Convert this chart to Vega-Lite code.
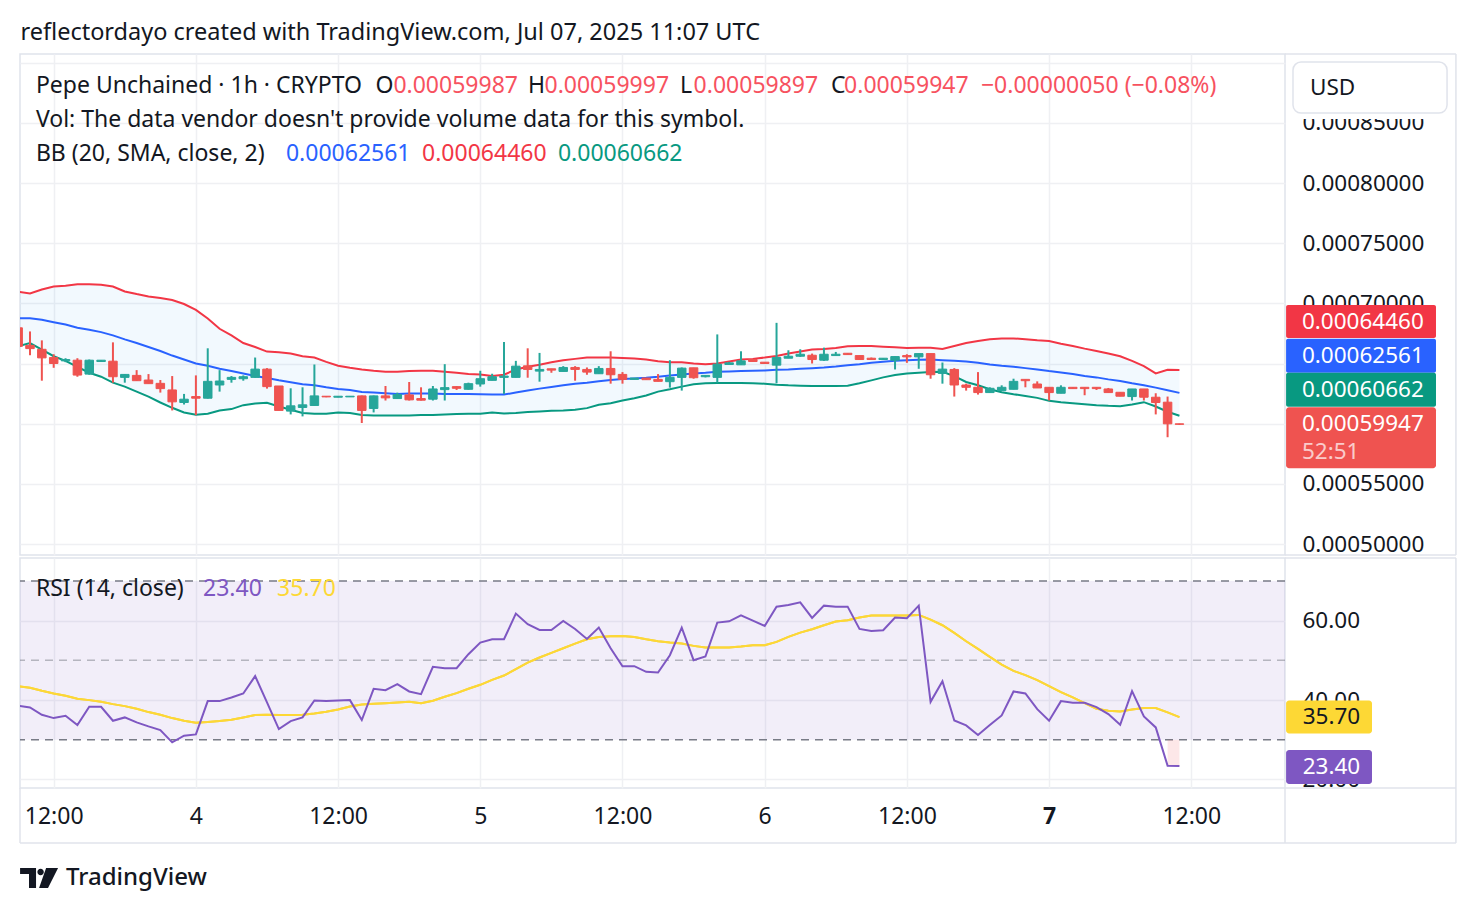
{
  "$schema": "https://vega.github.io/schema/vega-lite/v6.json",
  "background": "#ffffff",
  "padding": {"left": 18, "top": 21, "right": 0, "bottom": 0},
  "title": {
    "text": "reflectordayo created with TradingView.com, Jul 07, 2025 11:07 UTC",
    "anchor": "start",
    "font": "Noto Sans",
    "fontSize": 23.5,
    "fontWeight": "normal",
    "color": "#131722",
    "offset": 8,
    "dx": 2
  },
  "spacing": 3,
  "bounds": "flush",
  "datasets": {
    "bars": [
      {"t":"2025-07-03T09:00Z","o":0.00067967,"h":0.00067967,"l":0.00066429,"c":0.00066429,"u":0.00070961,"m":0.00068764,"lo":0.00066429,"r":38.55,"a":43.50},
      {"t":"2025-07-03T10:00Z","o":0.00066511,"h":0.00067665,"l":0.00065687,"c":0.00066237,"u":0.00070824,"m":0.00068764,"lo":0.00066704,"r":38.13,"a":43.08},
      {"t":"2025-07-03T11:00Z","o":0.00066182,"h":0.00066923,"l":0.00063572,"c":0.00065467,"u":0.00071154,"m":0.00068627,"lo":0.00066154,"r":36.29,"a":42.33},
      {"t":"2025-07-03T12:00Z","o":0.00065495,"h":0.00065770,"l":0.00064643,"c":0.00065000,"u":0.00071401,"m":0.00068434,"lo":0.00065605,"r":35.45,"a":41.66},
      {"t":"2025-07-03T13:00Z","o":0.00065220,"h":0.00065440,"l":0.00065110,"c":0.00065330,"u":0.00071456,"m":0.00068242,"lo":0.00065220,"r":36.04,"a":41.07},
      {"t":"2025-07-03T14:00Z","o":0.00065275,"h":0.00065440,"l":0.00063900,"c":0.00064039,"u":0.00071593,"m":0.00067967,"lo":0.00064726,"r":33.69,"a":40.31},
      {"t":"2025-07-03T15:00Z","o":0.00064121,"h":0.00065330,"l":0.00064066,"c":0.00065275,"u":0.00071593,"m":0.00067802,"lo":0.00064231,"r":38.30,"a":39.98},
      {"t":"2025-07-03T16:00Z","o":0.00065165,"h":0.00065275,"l":0.00065165,"c":0.00065275,"u":0.00071538,"m":0.00067610,"lo":0.00063902,"r":38.30,"a":39.56},
      {"t":"2025-07-03T17:00Z","o":0.00065193,"h":0.00066758,"l":0.00063407,"c":0.00063902,"u":0.00071401,"m":0.00067335,"lo":0.00063407,"r":34.78,"a":38.97},
      {"t":"2025-07-03T18:00Z","o":0.00063847,"h":0.00064121,"l":0.00063407,"c":0.00064094,"u":0.00070989,"m":0.00067006,"lo":0.00063078,"r":35.62,"a":38.47},
      {"t":"2025-07-03T19:00Z","o":0.00064012,"h":0.00064451,"l":0.00063545,"c":0.00063572,"u":0.00070769,"m":0.00066704,"lo":0.00062665,"r":34.36,"a":37.80},
      {"t":"2025-07-03T20:00Z","o":0.00063627,"h":0.00064121,"l":0.00063325,"c":0.00063325,"u":0.00070577,"m":0.00066374,"lo":0.00062253,"r":33.35,"a":36.96},
      {"t":"2025-07-03T21:00Z","o":0.00063352,"h":0.00063627,"l":0.00062583,"c":0.00062913,"u":0.00070440,"m":0.00066044,"lo":0.00061759,"r":32.43,"a":36.29},
      {"t":"2025-07-03T22:00Z","o":0.00062803,"h":0.00063957,"l":0.00061100,"c":0.00061814,"u":0.00070275,"m":0.00065660,"lo":0.00061319,"r":29.33,"a":35.45},
      {"t":"2025-07-03T23:00Z","o":0.00061759,"h":0.00062473,"l":0.00061594,"c":0.00062034,"u":0.00069945,"m":0.00065330,"lo":0.00060935,"r":31.01,"a":34.78},
      {"t":"2025-07-04T00:00Z","o":0.00062253,"h":0.00064012,"l":0.00060714,"c":0.00062116,"u":0.00069451,"m":0.00065000,"lo":0.00060743,"r":31.34,"a":34.28},
      {"t":"2025-07-04T01:00Z","o":0.00062116,"h":0.00066264,"l":0.00062088,"c":0.00063517,"u":0.00068736,"m":0.00064808,"lo":0.00060825,"r":39.73,"a":34.44},
      {"t":"2025-07-04T02:00Z","o":0.00063215,"h":0.00064451,"l":0.00062665,"c":0.00063545,"u":0.00067885,"m":0.00064561,"lo":0.00061100,"r":39.73,"a":34.70},
      {"t":"2025-07-04T03:00Z","o":0.00063682,"h":0.00063957,"l":0.00063407,"c":0.00063847,"u":0.00067335,"m":0.00064369,"lo":0.00061210,"r":40.65,"a":35.03},
      {"t":"2025-07-04T04:00Z","o":0.00063737,"h":0.00064012,"l":0.00063572,"c":0.00063902,"u":0.00066704,"m":0.00064176,"lo":0.00061539,"r":41.66,"a":35.62},
      {"t":"2025-07-04T05:00Z","o":0.00063847,"h":0.00065495,"l":0.00063820,"c":0.00064534,"u":0.00066374,"m":0.00063957,"lo":0.00061677,"r":46.02,"a":36.20},
      {"t":"2025-07-04T06:00Z","o":0.00064534,"h":0.00064616,"l":0.00062913,"c":0.00063078,"u":0.00065989,"m":0.00063792,"lo":0.00061732,"r":39.39,"a":36.29},
      {"t":"2025-07-04T07:00Z","o":0.00063133,"h":0.00063133,"l":0.00061100,"c":0.00061100,"u":0.00065934,"m":0.00063600,"lo":0.00061429,"r":32.68,"a":36.20},
      {"t":"2025-07-04T08:00Z","o":0.00061045,"h":0.00062940,"l":0.00060770,"c":0.00061484,"u":0.00065825,"m":0.00063435,"lo":0.00061155,"r":34.70,"a":36.20},
      {"t":"2025-07-04T09:00Z","o":0.00061347,"h":0.00063023,"l":0.00060605,"c":0.00061567,"u":0.00065605,"m":0.00063270,"lo":0.00060880,"r":35.62,"a":36.29},
      {"t":"2025-07-04T10:00Z","o":0.00061512,"h":0.00064918,"l":0.00061484,"c":0.00062308,"u":0.00065495,"m":0.00063188,"lo":0.00060825,"r":39.89,"a":36.62},
      {"t":"2025-07-04T11:00Z","o":0.00062281,"h":0.00062281,"l":0.00062198,"c":0.00062226,"u":0.00065138,"m":0.00063023,"lo":0.00060825,"r":39.73,"a":37.04},
      {"t":"2025-07-04T12:00Z","o":0.00062198,"h":0.00062281,"l":0.00062198,"c":0.00062281,"u":0.00064808,"m":0.00062885,"lo":0.00060935,"r":39.89,"a":37.63},
      {"t":"2025-07-04T13:00Z","o":0.00062226,"h":0.00062281,"l":0.00062226,"c":0.00062281,"u":0.00064643,"m":0.00062803,"lo":0.00060880,"r":39.98,"a":38.38},
      {"t":"2025-07-04T14:00Z","o":0.00062308,"h":0.00062336,"l":0.00060055,"c":0.00061100,"u":0.00064506,"m":0.00062638,"lo":0.00060715,"r":34.95,"a":38.89},
      {"t":"2025-07-04T15:00Z","o":0.00061265,"h":0.00062336,"l":0.00060935,"c":0.00062308,"u":0.00064396,"m":0.00062583,"lo":0.00060687,"r":42.83,"a":39.06},
      {"t":"2025-07-04T16:00Z","o":0.00062308,"h":0.00063133,"l":0.00061924,"c":0.00062143,"u":0.00064314,"m":0.00062528,"lo":0.00060687,"r":42.49,"a":39.22},
      {"t":"2025-07-04T17:00Z","o":0.00062088,"h":0.00062583,"l":0.00062060,"c":0.00062418,"u":0.00064314,"m":0.00062473,"lo":0.00060687,"r":44.00,"a":39.39},
      {"t":"2025-07-04T18:00Z","o":0.00062390,"h":0.00063462,"l":0.00061924,"c":0.00061979,"u":0.00064369,"m":0.00062501,"lo":0.00060687,"r":42.16,"a":39.56},
      {"t":"2025-07-04T19:00Z","o":0.00062088,"h":0.00063023,"l":0.00061924,"c":0.00061951,"u":0.00064396,"m":0.00062501,"lo":0.00060715,"r":41.49,"a":39.22},
      {"t":"2025-07-04T20:00Z","o":0.00062034,"h":0.00063133,"l":0.00061924,"c":0.00062885,"u":0.00064396,"m":0.00062501,"lo":0.00060715,"r":48.36,"a":39.81},
      {"t":"2025-07-04T21:00Z","o":0.00062830,"h":0.00064945,"l":0.00061924,"c":0.00062995,"u":0.00064314,"m":0.00062473,"lo":0.00060770,"r":48.03,"a":40.82},
      {"t":"2025-07-04T22:00Z","o":0.00063078,"h":0.00063105,"l":0.00062803,"c":0.00062940,"u":0.00064231,"m":0.00062473,"lo":0.00060797,"r":48.03,"a":41.74},
      {"t":"2025-07-04T23:00Z","o":0.00062858,"h":0.00063407,"l":0.00062830,"c":0.00063325,"u":0.00064121,"m":0.00062473,"lo":0.00060825,"r":51.55,"a":42.83},
      {"t":"2025-07-05T00:00Z","o":0.00063298,"h":0.00064396,"l":0.00063078,"c":0.00063737,"u":0.00064094,"m":0.00062446,"lo":0.00060825,"r":54.49,"a":43.84},
      {"t":"2025-07-05T01:00Z","o":0.00063600,"h":0.00064149,"l":0.00063600,"c":0.00063902,"u":0.00063957,"m":0.00062418,"lo":0.00060935,"r":55.32,"a":45.09},
      {"t":"2025-07-05T02:00Z","o":0.00063847,"h":0.00066786,"l":0.00062473,"c":0.00063957,"u":0.00064066,"m":0.00062418,"lo":0.00060852,"r":55.32,"a":46.18},
      {"t":"2025-07-05T03:00Z","o":0.00063847,"h":0.00065220,"l":0.00063847,"c":0.00064781,"u":0.00064506,"m":0.00062583,"lo":0.00060880,"r":61.78,"a":47.78},
      {"t":"2025-07-05T04:00Z","o":0.00064808,"h":0.00066264,"l":0.00063820,"c":0.00064506,"u":0.00064726,"m":0.00062748,"lo":0.00060962,"r":59.10,"a":49.45},
      {"t":"2025-07-05T05:00Z","o":0.00064369,"h":0.00065880,"l":0.00063490,"c":0.00064506,"u":0.00064891,"m":0.00062913,"lo":0.00061017,"r":57.67,"a":50.71},
      {"t":"2025-07-05T06:00Z","o":0.00064561,"h":0.00064561,"l":0.00064231,"c":0.00064451,"u":0.00065110,"m":0.00063050,"lo":0.00061072,"r":57.67,"a":51.89},
      {"t":"2025-07-05T07:00Z","o":0.00064341,"h":0.00064781,"l":0.00064341,"c":0.00064671,"u":0.00065275,"m":0.00063188,"lo":0.00061100,"r":59.94,"a":53.06},
      {"t":"2025-07-05T08:00Z","o":0.00064671,"h":0.00064781,"l":0.00063572,"c":0.00064506,"u":0.00065385,"m":0.00063325,"lo":0.00061155,"r":57.92,"a":54.23},
      {"t":"2025-07-05T09:00Z","o":0.00064506,"h":0.00064671,"l":0.00064066,"c":0.00064286,"u":0.00065495,"m":0.00063407,"lo":0.00061292,"r":55.41,"a":55.32},
      {"t":"2025-07-05T10:00Z","o":0.00064149,"h":0.00064781,"l":0.00064149,"c":0.00064588,"u":0.00065495,"m":0.00063517,"lo":0.00061567,"r":58.26,"a":55.91},
      {"t":"2025-07-05T11:00Z","o":0.00064588,"h":0.00066017,"l":0.00063325,"c":0.00064066,"u":0.00065495,"m":0.00063627,"lo":0.00061704,"r":53.06,"a":56.08},
      {"t":"2025-07-05T12:00Z","o":0.00064094,"h":0.00064286,"l":0.00063325,"c":0.00063682,"u":0.00065467,"m":0.00063709,"lo":0.00061924,"r":48.53,"a":56.16},
      {"t":"2025-07-05T13:00Z","o":0.00063682,"h":0.00063792,"l":0.00063682,"c":0.00063792,"u":0.00065412,"m":0.00063764,"lo":0.00062116,"r":48.53,"a":55.91},
      {"t":"2025-07-05T14:00Z","o":0.00063792,"h":0.00063792,"l":0.00063655,"c":0.00063655,"u":0.00065330,"m":0.00063819,"lo":0.00062336,"r":47.11,"a":55.32},
      {"t":"2025-07-05T15:00Z","o":0.00063682,"h":0.00064121,"l":0.00063517,"c":0.00063517,"u":0.00065193,"m":0.00063902,"lo":0.00062665,"r":46.94,"a":54.82},
      {"t":"2025-07-05T16:00Z","o":0.00063490,"h":0.00065275,"l":0.00062995,"c":0.00063847,"u":0.00065110,"m":0.00064012,"lo":0.00062858,"r":51.30,"a":54.49},
      {"t":"2025-07-05T17:00Z","o":0.00063847,"h":0.00064671,"l":0.00062748,"c":0.00064616,"u":0.00065110,"m":0.00064094,"lo":0.00063078,"r":58.26,"a":54.23},
      {"t":"2025-07-05T18:00Z","o":0.00064643,"h":0.00064643,"l":0.00063737,"c":0.00063820,"u":0.00065000,"m":0.00064176,"lo":0.00063270,"r":50.04,"a":53.65},
      {"t":"2025-07-05T19:00Z","o":0.00063902,"h":0.00064012,"l":0.00063847,"c":0.00064012,"u":0.00064946,"m":0.00064231,"lo":0.00063352,"r":50.96,"a":53.23},
      {"t":"2025-07-05T20:00Z","o":0.00063847,"h":0.00067418,"l":0.00063407,"c":0.00064945,"u":0.00065000,"m":0.00064314,"lo":0.00063380,"r":59.52,"a":53.23},
      {"t":"2025-07-05T21:00Z","o":0.00064918,"h":0.00065138,"l":0.00064918,"c":0.00065055,"u":0.00065165,"m":0.00064341,"lo":0.00063380,"r":59.85,"a":53.23},
      {"t":"2025-07-05T22:00Z","o":0.00064890,"h":0.00066017,"l":0.00064890,"c":0.00065220,"u":0.00065330,"m":0.00064369,"lo":0.00063380,"r":61.36,"a":53.48},
      {"t":"2025-07-05T23:00Z","o":0.00065330,"h":0.00065330,"l":0.00065165,"c":0.00065165,"u":0.00065385,"m":0.00064396,"lo":0.00063352,"r":60.02,"a":53.82},
      {"t":"2025-07-06T00:00Z","o":0.00065110,"h":0.00065110,"l":0.00065000,"c":0.00065000,"u":0.00065495,"m":0.00064424,"lo":0.00063325,"r":58.68,"a":53.82},
      {"t":"2025-07-06T01:00Z","o":0.00064863,"h":0.00068379,"l":0.00063352,"c":0.00065495,"u":0.00065632,"m":0.00064479,"lo":0.00063242,"r":63.54,"a":54.65},
      {"t":"2025-07-06T02:00Z","o":0.00065440,"h":0.00066099,"l":0.00065440,"c":0.00065605,"u":0.00065825,"m":0.00064506,"lo":0.00063188,"r":63.96,"a":55.91},
      {"t":"2025-07-06T03:00Z","o":0.00065605,"h":0.00066182,"l":0.00065550,"c":0.00065770,"u":0.00065989,"m":0.00064561,"lo":0.00063160,"r":64.63,"a":57.00},
      {"t":"2025-07-06T04:00Z","o":0.00065687,"h":0.00065825,"l":0.00065000,"c":0.00065330,"u":0.00066154,"m":0.00064616,"lo":0.00063133,"r":60.69,"a":57.84},
      {"t":"2025-07-06T05:00Z","o":0.00065275,"h":0.00066319,"l":0.00065220,"c":0.00065770,"u":0.00066209,"m":0.00064671,"lo":0.00063133,"r":63.79,"a":58.85},
      {"t":"2025-07-06T06:00Z","o":0.00065660,"h":0.00065962,"l":0.00065660,"c":0.00065770,"u":0.00066291,"m":0.00064753,"lo":0.00063133,"r":63.54,"a":59.77},
      {"t":"2025-07-06T07:00Z","o":0.00065852,"h":0.00065852,"l":0.00065742,"c":0.00065742,"u":0.00066429,"m":0.00064863,"lo":0.00063160,"r":63.54,"a":60.10},
      {"t":"2025-07-06T08:00Z","o":0.00065660,"h":0.00065660,"l":0.00065330,"c":0.00065330,"u":0.00066456,"m":0.00064946,"lo":0.00063352,"r":57.92,"a":60.78},
      {"t":"2025-07-06T09:00Z","o":0.00065440,"h":0.00065495,"l":0.00065330,"c":0.00065330,"u":0.00066456,"m":0.00065055,"lo":0.00063600,"r":57.42,"a":61.28},
      {"t":"2025-07-06T10:00Z","o":0.00065330,"h":0.00065440,"l":0.00065330,"c":0.00065440,"u":0.00066401,"m":0.00065138,"lo":0.00063847,"r":57.59,"a":61.28},
      {"t":"2025-07-06T11:00Z","o":0.00065275,"h":0.00065577,"l":0.00064506,"c":0.00065577,"u":0.00066346,"m":0.00065220,"lo":0.00064039,"r":60.78,"a":61.28},
      {"t":"2025-07-06T12:00Z","o":0.00065660,"h":0.00065770,"l":0.00065055,"c":0.00065550,"u":0.00066291,"m":0.00065275,"lo":0.00064176,"r":60.61,"a":61.28},
      {"t":"2025-07-06T13:00Z","o":0.00065550,"h":0.00065825,"l":0.00064561,"c":0.00065825,"u":0.00066319,"m":0.00065303,"lo":0.00064231,"r":63.79,"a":61.45},
      {"t":"2025-07-06T14:00Z","o":0.00065825,"h":0.00065825,"l":0.00063737,"c":0.00064066,"u":0.00066319,"m":0.00065330,"lo":0.00064286,"r":39.56,"a":60.27},
      {"t":"2025-07-06T15:00Z","o":0.00064176,"h":0.00065082,"l":0.00063325,"c":0.00064534,"u":0.00066209,"m":0.00065275,"lo":0.00064314,"r":44.76,"a":58.85},
      {"t":"2025-07-06T16:00Z","o":0.00064506,"h":0.00064616,"l":0.00062253,"c":0.00063215,"u":0.00066456,"m":0.00065220,"lo":0.00063957,"r":34.86,"a":56.92},
      {"t":"2025-07-06T17:00Z","o":0.00063215,"h":0.00063325,"l":0.00062748,"c":0.00063023,"u":0.00066704,"m":0.00065165,"lo":0.00063462,"r":33.60,"a":54.82},
      {"t":"2025-07-06T18:00Z","o":0.00063023,"h":0.00064286,"l":0.00062418,"c":0.00062583,"u":0.00066868,"m":0.00065055,"lo":0.00063188,"r":31.17,"a":52.89},
      {"t":"2025-07-06T19:00Z","o":0.00062583,"h":0.00063023,"l":0.00062583,"c":0.00062940,"u":0.00067006,"m":0.00064918,"lo":0.00062858,"r":33.69,"a":50.88},
      {"t":"2025-07-06T20:00Z","o":0.00062748,"h":0.00063188,"l":0.00062748,"c":0.00063023,"u":0.00067088,"m":0.00064808,"lo":0.00062610,"r":36.12,"a":48.95},
      {"t":"2025-07-06T21:00Z","o":0.00062858,"h":0.00063737,"l":0.00062858,"c":0.00063517,"u":0.00067088,"m":0.00064726,"lo":0.00062446,"r":42.16,"a":47.36},
      {"t":"2025-07-06T22:00Z","o":0.00063682,"h":0.00063682,"l":0.00063023,"c":0.00063572,"u":0.00067006,"m":0.00064616,"lo":0.00062308,"r":41.66,"a":46.27},
      {"t":"2025-07-06T23:00Z","o":0.00063297,"h":0.00063517,"l":0.00062968,"c":0.00062968,"u":0.00066923,"m":0.00064506,"lo":0.00062143,"r":37.71,"a":45.01},
      {"t":"2025-07-07T00:00Z","o":0.00063023,"h":0.00063023,"l":0.00061924,"c":0.00062583,"u":0.00066868,"m":0.00064369,"lo":0.00061896,"r":34.78,"a":43.50},
      {"t":"2025-07-07T01:00Z","o":0.00062528,"h":0.00063188,"l":0.00062528,"c":0.00063023,"u":0.00066649,"m":0.00064259,"lo":0.00061786,"r":39.73,"a":41.99},
      {"t":"2025-07-07T02:00Z","o":0.00063023,"h":0.00063023,"l":0.00062913,"c":0.00062913,"u":0.00066456,"m":0.00064121,"lo":0.00061704,"r":39.31,"a":40.65},
      {"t":"2025-07-07T03:00Z","o":0.00063023,"h":0.00063023,"l":0.00062363,"c":0.00062913,"u":0.00066237,"m":0.00063957,"lo":0.00061622,"r":39.31,"a":39.22},
      {"t":"2025-07-07T04:00Z","o":0.00063023,"h":0.00063023,"l":0.00062803,"c":0.00062913,"u":0.00066044,"m":0.00063847,"lo":0.00061539,"r":38.22,"a":37.80},
      {"t":"2025-07-07T05:00Z","o":0.00062885,"h":0.00062968,"l":0.00062583,"c":0.00062583,"u":0.00065825,"m":0.00063682,"lo":0.00061484,"r":36.46,"a":37.29},
      {"t":"2025-07-07T06:00Z","o":0.00062610,"h":0.00062610,"l":0.00062281,"c":0.00062281,"u":0.00065605,"m":0.00063545,"lo":0.00061457,"r":33.77,"a":37.13},
      {"t":"2025-07-07T07:00Z","o":0.00062253,"h":0.00062885,"l":0.00061924,"c":0.00062885,"u":0.00065220,"m":0.00063352,"lo":0.00061594,"r":42.24,"a":37.63},
      {"t":"2025-07-07T08:00Z","o":0.00062885,"h":0.00062885,"l":0.00061924,"c":0.00062198,"u":0.00064781,"m":0.00063188,"lo":0.00061786,"r":35.87,"a":37.97},
      {"t":"2025-07-07T09:00Z","o":0.00062198,"h":0.00062528,"l":0.00060770,"c":0.00061759,"u":0.00064176,"m":0.00062995,"lo":0.00061429,"r":33.10,"a":37.97},
      {"t":"2025-07-07T10:00Z","o":0.00061786,"h":0.00062253,"l":0.00058874,"c":0.00059987,"u":0.00064480,"m":0.00062775,"lo":0.00060990,"r":23.46,"a":36.88},
      {"t":"2025-07-07T11:00Z","o":0.00059987,"h":0.00059997,"l":0.00059897,"c":0.00059947,"u":0.00064460,"m":0.00062561,"lo":0.00060662,"r":23.40,"a":35.70}
    ],
    "notes": [
      {"t":"2025-07-03T10:30Z","p":0.00088061,"text":"Pepe Unchained · 1h · CRYPTO","k":"ink"},
      {"t":"2025-07-04T15:10Z","p":0.00088061,"text":"O","k":"ink"},
      {"t":"2025-07-04T16:40Z","p":0.00088061,"text":"0.00059987","k":"down"},
      {"t":"2025-07-05T04:02Z","p":0.00088061,"text":"H","k":"ink"},
      {"t":"2025-07-05T05:25Z","p":0.00088061,"text":"0.00059997","k":"down"},
      {"t":"2025-07-05T16:51Z","p":0.00088061,"text":"L","k":"ink"},
      {"t":"2025-07-05T18:00Z","p":0.00088061,"text":"0.00059897","k":"down"},
      {"t":"2025-07-06T05:36Z","p":0.00088061,"text":"C","k":"ink"},
      {"t":"2025-07-06T06:42Z","p":0.00088061,"text":"0.00059947","k":"down"},
      {"t":"2025-07-06T18:15Z","p":0.00088061,"text":"−0.00000050 (−0.08%)","k":"down"},
      {"t":"2025-07-03T10:30Z","p":0.00085235,"text":"Vol: The data vendor doesn't provide volume data for this symbol.","k":"ink"},
      {"t":"2025-07-03T10:30Z","p":0.0008241,"text":"BB (20, SMA, close, 2)","k":"ink"},
      {"t":"2025-07-04T07:36Z","p":0.0008241,"text":"0.00062561","k":"basis"},
      {"t":"2025-07-04T19:05Z","p":0.0008241,"text":"0.00064460","k":"upper"},
      {"t":"2025-07-05T06:33Z","p":0.0008241,"text":"0.00060662","k":"lower"}
    ],
    "scaleBox": [
      {"m1":"2025-07-07T20:00Z","m2":"2025-07-08T10:15Z","mp1":0.0009072,"mp2":0.00085318,
       "t1":"2025-07-07T20:35Z","t2":"2025-07-08T09:35Z","p1":0.00090055,"p2":0.00085817,
       "tx":"2025-07-07T22:01Z","py":0.00087895,"text":"USD"}
    ],
    "priceTags": [
      {"t1":"2025-07-07T20:00Z","t2":"2025-07-08T08:39Z","tx":"2025-07-07T21:20Z","v":0.0006446,"text":"0.00064460","k":"upper"},
      {"t1":"2025-07-07T20:00Z","t2":"2025-07-08T08:39Z","tx":"2025-07-07T21:20Z","v":0.00062561,"text":"0.00062561","k":"basis"},
      {"t1":"2025-07-07T20:00Z","t2":"2025-07-08T08:39Z","tx":"2025-07-07T21:20Z","v":0.00060662,"text":"0.00060662","k":"lower"},
      {"t1":"2025-07-07T20:00Z","t2":"2025-07-08T08:39Z","tx":"2025-07-07T21:20Z","v":0.00059947,"text":"0.00059947","sub":"52:51","k":"last"}
    ],
    "frameMain": [
      {"t1":"2025-07-07T19:54:30Z","t2":"2025-07-08T10:20Z","v1":0.0009072,"v2":0.0009072},
      {"t1":"2025-07-08T10:20Z","t2":"2025-07-08T10:20Z","v1":0.0009072,"v2":0.00049087},
      {"t1":"2025-07-07T19:54:30Z","t2":"2025-07-08T10:20Z","v1":0.00049087,"v2":0.00049087}
    ],
    "levels": [
      {"lvl":70,"k":"bound"},
      {"lvl":50,"k":"mid"},
      {"lvl":30,"k":"bound"}
    ],
    "rsiNotes": [
      {"t":"2025-07-03T10:30Z","v":67.98,"text":"RSI (14, close)","k":"ink"},
      {"t":"2025-07-04T00:36Z","v":67.98,"text":"23.40","k":"rsi"},
      {"t":"2025-07-04T06:51Z","v":67.98,"text":"35.70","k":"ma"}
    ],
    "rsiTags": [
      {"t1":"2025-07-07T20:00Z","t2":"2025-07-08T03:15Z","tx":"2025-07-07T21:24Z","v":35.7,"text":"35.70","k":"ma"},
      {"t1":"2025-07-07T20:00Z","t2":"2025-07-08T03:15Z","tx":"2025-07-07T21:24Z","v":23.4,"text":"23.40","k":"rsi"}
    ],
    "frameRsi": [
      {"t1":"2025-07-08T10:20Z","t2":"2025-07-08T10:20Z","v1":75.8,"v2":3.96},
      {"t1":"2025-07-07T19:54:30Z","t2":"2025-07-08T10:20Z","v1":75.8,"v2":75.8},
      {"t1":"2025-07-07T19:54:30Z","t2":"2025-07-08T10:20Z","v1":17.83,"v2":17.83},
      {"t1":"2025-07-07T19:54:30Z","t2":"2025-07-07T19:54:30Z","v1":17.83,"v2":3.96},
      {"t1":"2025-07-03T09:09:24Z","t2":"2025-07-03T09:09:24Z","v1":17.83,"v2":3.96},
      {"t1":"2025-07-03T09:09:24Z","t2":"2025-07-08T10:20Z","v1":3.96,"v2":3.96}
    ],
    "brand": [
      {"t":"2025-07-03T13:02Z","lt":"2025-07-03T10:46Z","v":-4.86,"text":"TradingView"}
    ]
  },
  "vconcat": [
    {
      "width": 1265,
      "height": 501,
      "layer": [
        {
          "data": {"name": "bars"},
          "mark": {"type": "area", "color": "#2196f3", "opacity": 0.06, "clip": true},
          "encoding": {
            "x": {
              "field": "t", "type": "temporal", "title": null,
              "scale": {"type": "utc", "padding": 0, "domain": [
                {"year": 2025, "month": 7, "date": 3, "hours": 9, "minutes": 9, "seconds": 24, "utc": true},
                {"year": 2025, "month": 7, "date": 7, "hours": 19, "minutes": 54, "seconds": 30, "utc": true}
              ]},
              "axis": {
                "labels": false, "grid": true, "ticks": false, "domain": false,
                "values": [
                  {"year": 2025, "month": 7, "date": 3, "hours": 12, "utc": true},
                  {"year": 2025, "month": 7, "date": 4, "hours": 0, "utc": true},
                  {"year": 2025, "month": 7, "date": 4, "hours": 12, "utc": true},
                  {"year": 2025, "month": 7, "date": 5, "hours": 0, "utc": true},
                  {"year": 2025, "month": 7, "date": 5, "hours": 12, "utc": true},
                  {"year": 2025, "month": 7, "date": 6, "hours": 0, "utc": true},
                  {"year": 2025, "month": 7, "date": 6, "hours": 12, "utc": true},
                  {"year": 2025, "month": 7, "date": 7, "hours": 0, "utc": true},
                  {"year": 2025, "month": 7, "date": 7, "hours": 12, "utc": true}
                ]
              }
            },
            "y": {
              "field": "u", "type": "quantitative", "title": null,
              "scale": {"domain": [0.00049087, 0.0009072], "zero": false, "nice": false},
              "axis": {
                "orient": "right", "grid": true, "format": ".8f", "labelPadding": 17, "labelFontSize": 22.5,
                "values": [0.0005, 0.00055, 0.0006, 0.00065, 0.0007, 0.00075, 0.0008, 0.00085, 0.0009],
                "labelExpr": "datum.value > 0.00088 ? '' : datum.label"
              }
            },
            "y2": {"field": "lo"}
          }
        },
        {
          "data": {"name": "bars"},
          "mark": {"type": "line", "color": "#f23645", "strokeWidth": 2, "clip": true},
          "encoding": {
            "x": {"field": "t", "type": "temporal", "title": null},
            "y": {"field": "u", "type": "quantitative", "title": null}
          }
        },
        {
          "data": {"name": "bars"},
          "mark": {"type": "line", "color": "#2962ff", "strokeWidth": 2, "clip": true},
          "encoding": {
            "x": {"field": "t", "type": "temporal", "title": null},
            "y": {"field": "m", "type": "quantitative", "title": null}
          }
        },
        {
          "data": {"name": "bars"},
          "mark": {"type": "line", "color": "#089981", "strokeWidth": 2, "clip": true},
          "encoding": {
            "x": {"field": "t", "type": "temporal", "title": null},
            "y": {"field": "lo", "type": "quantitative", "title": null}
          }
        },
        {
          "data": {"name": "bars"},
          "mark": {"type": "rule", "strokeWidth": 2, "clip": true},
          "encoding": {
            "x": {"field": "t", "type": "temporal", "title": null},
            "y": {"field": "l", "type": "quantitative", "title": null},
            "y2": {"field": "h"},
            "color": {"condition": {"test": "datum.c >= datum.o", "value": "#26a69a"}, "value": "#ef5350"}
          }
        },
        {
          "data": {"name": "bars"},
          "mark": {"type": "bar", "width": 8.5, "strokeWidth": 1, "clip": true},
          "encoding": {
            "x": {"field": "t", "type": "temporal", "title": null},
            "y": {"field": "o", "type": "quantitative", "title": null},
            "y2": {"field": "c"},
            "color": {"condition": {"test": "datum.c >= datum.o", "value": "#26a69a"}, "value": "#ef5350"},
            "stroke": {"condition": {"test": "datum.c >= datum.o", "value": "#26a69a"}, "value": "#ef5350"}
          }
        },
        {
          "data": {"name": "notes"},
          "mark": {"type": "text", "align": "left", "baseline": "middle", "fontSize": 23},
          "encoding": {
            "x": {"field": "t", "type": "temporal", "title": null},
            "y": {"field": "p", "type": "quantitative", "title": null},
            "text": {"field": "text"},
            "color": {
              "field": "k", "type": "nominal", "legend": null,
              "scale": {"domain": ["ink", "down", "basis", "upper", "lower", "rsi", "ma"], "range": ["#131722", "#f7525f", "#2962ff", "#f23645", "#089981", "#7e57c2", "#fdd835"]}
            }
          }
        },
        {
          "data": {"name": "scaleBox"},
          "mark": {"type": "rect", "color": "#ffffff"},
          "encoding": {
            "x": {"field": "m1", "type": "temporal", "title": null},
            "x2": {"field": "m2"},
            "y": {"field": "mp1", "type": "quantitative", "title": null},
            "y2": {"field": "mp2"}
          }
        },
        {
          "data": {"name": "scaleBox"},
          "mark": {"type": "rect", "fill": "#ffffff", "stroke": "#e0e3eb", "strokeWidth": 1.5, "cornerRadius": 8},
          "encoding": {
            "x": {"field": "t1", "type": "temporal", "title": null},
            "x2": {"field": "t2"},
            "y": {"field": "p1", "type": "quantitative", "title": null},
            "y2": {"field": "p2"}
          }
        },
        {
          "data": {"name": "scaleBox"},
          "mark": {"type": "text", "align": "left", "baseline": "middle", "fontSize": 22.5, "color": "#131722"},
          "encoding": {
            "x": {"field": "tx", "type": "temporal", "title": null},
            "y": {"field": "py", "type": "quantitative", "title": null},
            "text": {"field": "text"}
          }
        },
        {
          "data": {"name": "priceTags"},
          "transform": [{"filter": "datum.k === 'upper'"}],
          "mark": {"type": "rect", "color": "#f23645", "cornerRadius": 2, "yOffset": -65, "y2Offset": -32},
          "encoding": {
            "x": {"field": "t1", "type": "temporal", "title": null},
            "x2": {"field": "t2"},
            "y": {"field": "v", "type": "quantitative", "title": null},
            "y2": {"field": "v"}
          }
        },
        {
          "data": {"name": "priceTags"},
          "transform": [{"filter": "datum.k === 'upper'"}],
          "mark": {"type": "text", "align": "left", "baseline": "middle", "fontSize": 22.5, "color": "#ffffff", "dy": -48.5},
          "encoding": {
            "x": {"field": "tx", "type": "temporal", "title": null},
            "y": {"field": "v", "type": "quantitative", "title": null},
            "text": {"field": "text"}
          }
        },
        {
          "data": {"name": "priceTags"},
          "transform": [{"filter": "datum.k === 'basis'"}],
          "mark": {"type": "rect", "color": "#2962ff", "cornerRadius": 2, "yOffset": -54, "y2Offset": -20},
          "encoding": {
            "x": {"field": "t1", "type": "temporal", "title": null},
            "x2": {"field": "t2"},
            "y": {"field": "v", "type": "quantitative", "title": null},
            "y2": {"field": "v"}
          }
        },
        {
          "data": {"name": "priceTags"},
          "transform": [{"filter": "datum.k === 'basis'"}],
          "mark": {"type": "text", "align": "left", "baseline": "middle", "fontSize": 22.5, "color": "#ffffff", "dy": -37},
          "encoding": {
            "x": {"field": "tx", "type": "temporal", "title": null},
            "y": {"field": "v", "type": "quantitative", "title": null},
            "text": {"field": "text"}
          }
        },
        {
          "data": {"name": "priceTags"},
          "transform": [{"filter": "datum.k === 'lower'"}],
          "mark": {"type": "rect", "color": "#089981", "cornerRadius": 2, "yOffset": -43, "y2Offset": -9},
          "encoding": {
            "x": {"field": "t1", "type": "temporal", "title": null},
            "x2": {"field": "t2"},
            "y": {"field": "v", "type": "quantitative", "title": null},
            "y2": {"field": "v"}
          }
        },
        {
          "data": {"name": "priceTags"},
          "transform": [{"filter": "datum.k === 'lower'"}],
          "mark": {"type": "text", "align": "left", "baseline": "middle", "fontSize": 22.5, "color": "#ffffff", "dy": -26},
          "encoding": {
            "x": {"field": "tx", "type": "temporal", "title": null},
            "y": {"field": "v", "type": "quantitative", "title": null},
            "text": {"field": "text"}
          }
        },
        {
          "data": {"name": "priceTags"},
          "transform": [{"filter": "datum.k === 'last'"}],
          "mark": {"type": "rect", "color": "#ef5350", "cornerRadius": 3, "yOffset": -17, "y2Offset": 44},
          "encoding": {
            "x": {"field": "t1", "type": "temporal", "title": null},
            "x2": {"field": "t2"},
            "y": {"field": "v", "type": "quantitative", "title": null},
            "y2": {"field": "v"}
          }
        },
        {
          "data": {"name": "priceTags"},
          "transform": [{"filter": "datum.k === 'last'"}],
          "mark": {"type": "text", "align": "left", "baseline": "middle", "fontSize": 22.5, "color": "#ffffff"},
          "encoding": {
            "x": {"field": "tx", "type": "temporal", "title": null},
            "y": {"field": "v", "type": "quantitative", "title": null},
            "text": {"field": "text"}
          }
        },
        {
          "data": {"name": "priceTags"},
          "transform": [{"filter": "datum.k === 'last'"}],
          "mark": {"type": "text", "align": "left", "baseline": "middle", "fontSize": 22.5, "color": "#ffffff", "opacity": 0.7, "dy": 28},
          "encoding": {
            "x": {"field": "tx", "type": "temporal", "title": null},
            "y": {"field": "v", "type": "quantitative", "title": null},
            "text": {"field": "sub"}
          }
        },
        {
          "data": {"name": "frameMain"},
          "mark": {"type": "rule", "color": "#e0e3eb", "strokeWidth": 1.5},
          "encoding": {
            "x": {"field": "t1", "type": "temporal", "title": null},
            "x2": {"field": "t2"},
            "y": {"field": "v1", "type": "quantitative", "title": null},
            "y2": {"field": "v2"}
          }
        }
      ]
    },
    {
      "width": 1265,
      "height": 230,
      "layer": [
        {
          "data": {"name": "bars"},
          "mark": {"type": "line", "color": "#fdd835", "strokeWidth": 2, "clip": true},
          "encoding": {
            "x": {
              "field": "t", "type": "temporal", "title": null,
              "scale": {"type": "utc", "padding": 0, "domain": [
                {"year": 2025, "month": 7, "date": 3, "hours": 9, "minutes": 9, "seconds": 24, "utc": true},
                {"year": 2025, "month": 7, "date": 7, "hours": 19, "minutes": 54, "seconds": 30, "utc": true}
              ]},
              "axis": {
                "orient": "bottom", "grid": true, "ticks": false, "domain": false,
                "labelPadding": 28, "labelBaseline": "middle", "labelFontSize": 23,
                "labelExpr": "utchours(datum.value) === 12 ? '12:00' : '' + utcdate(datum.value)",
                "labelFontWeight": {"condition": {"test": "utcday(datum.value) === 1 && utchours(datum.value) === 0", "value": "bold"}, "value": "normal"},
                "values": [
                  {"year": 2025, "month": 7, "date": 3, "hours": 12, "utc": true},
                  {"year": 2025, "month": 7, "date": 4, "hours": 0, "utc": true},
                  {"year": 2025, "month": 7, "date": 4, "hours": 12, "utc": true},
                  {"year": 2025, "month": 7, "date": 5, "hours": 0, "utc": true},
                  {"year": 2025, "month": 7, "date": 5, "hours": 12, "utc": true},
                  {"year": 2025, "month": 7, "date": 6, "hours": 0, "utc": true},
                  {"year": 2025, "month": 7, "date": 6, "hours": 12, "utc": true},
                  {"year": 2025, "month": 7, "date": 7, "hours": 0, "utc": true},
                  {"year": 2025, "month": 7, "date": 7, "hours": 12, "utc": true}
                ]
              }
            },
            "y": {
              "field": "a", "type": "quantitative", "title": null,
              "scale": {"domain": [17.83, 75.8], "zero": false, "nice": false},
              "axis": {"orient": "right", "grid": true, "format": ".2f", "labelPadding": 17, "labelFontSize": 22.5, "values": [20, 40, 60]}
            }
          }
        },
        {
          "data": {"name": "levels"},
          "transform": [{"filter": "datum.k === 'mid'"}],
          "mark": {"type": "rect", "color": "#7e57c2", "opacity": 0.1},
          "encoding": {
            "y": {"datum": 70, "type": "quantitative", "title": null},
            "y2": {"datum": 30}
          }
        },
        {
          "data": {"name": "levels"},
          "mark": {"type": "rule", "color": "#787b86", "strokeWidth": 1.5, "strokeDash": [8, 6]},
          "encoding": {
            "y": {"field": "lvl", "type": "quantitative", "title": null},
            "opacity": {"condition": {"test": "datum.k === 'mid'", "value": 0.5}, "value": 1}
          }
        },
        {
          "data": {"name": "bars"},
          "transform": [{"filter": "datum.r < 29"}],
          "mark": {"type": "area", "color": "#f23645", "opacity": 0.12, "clip": true},
          "encoding": {
            "x": {"field": "t", "type": "temporal", "title": null},
            "y": {"field": "r", "type": "quantitative", "title": null},
            "y2": {"datum": 30}
          }
        },
        {
          "data": {"name": "bars"},
          "mark": {"type": "line", "color": "#fdd835", "strokeWidth": 2, "clip": true},
          "encoding": {
            "x": {"field": "t", "type": "temporal", "title": null},
            "y": {"field": "a", "type": "quantitative", "title": null}
          }
        },
        {
          "data": {"name": "bars"},
          "mark": {"type": "line", "color": "#7e57c2", "strokeWidth": 2, "clip": true},
          "encoding": {
            "x": {"field": "t", "type": "temporal", "title": null},
            "y": {"field": "r", "type": "quantitative", "title": null}
          }
        },
        {
          "data": {"name": "rsiNotes"},
          "mark": {"type": "text", "align": "left", "baseline": "middle", "fontSize": 23},
          "encoding": {
            "x": {"field": "t", "type": "temporal", "title": null},
            "y": {"field": "v", "type": "quantitative", "title": null},
            "text": {"field": "text"},
            "color": {
              "field": "k", "type": "nominal", "legend": null,
              "scale": {"domain": ["ink", "down", "basis", "upper", "lower", "rsi", "ma"], "range": ["#131722", "#f7525f", "#2962ff", "#f23645", "#089981", "#7e57c2", "#fdd835"]}
            }
          }
        },
        {
          "data": {"name": "rsiTags"},
          "transform": [{"filter": "datum.k === 'ma'"}],
          "mark": {"type": "rect", "color": "#fdd835", "cornerRadius": 3, "yOffset": -16.5, "y2Offset": 16.5},
          "encoding": {
            "x": {"field": "t1", "type": "temporal", "title": null},
            "x2": {"field": "t2"},
            "y": {"field": "v", "type": "quantitative", "title": null},
            "y2": {"field": "v"}
          }
        },
        {
          "data": {"name": "rsiTags"},
          "transform": [{"filter": "datum.k === 'rsi'"}],
          "mark": {"type": "rect", "color": "#7e57c2", "cornerRadius": 3, "yOffset": -16, "y2Offset": 18},
          "encoding": {
            "x": {"field": "t1", "type": "temporal", "title": null},
            "x2": {"field": "t2"},
            "y": {"field": "v", "type": "quantitative", "title": null},
            "y2": {"field": "v"}
          }
        },
        {
          "data": {"name": "rsiTags"},
          "transform": [{"filter": "datum.k === 'ma'"}],
          "mark": {"type": "text", "align": "left", "baseline": "middle", "fontSize": 22.5, "color": "#131722"},
          "encoding": {
            "x": {"field": "tx", "type": "temporal", "title": null},
            "y": {"field": "v", "type": "quantitative", "title": null},
            "text": {"field": "text"}
          }
        },
        {
          "data": {"name": "rsiTags"},
          "transform": [{"filter": "datum.k === 'rsi'"}],
          "mark": {"type": "text", "align": "left", "baseline": "middle", "fontSize": 22.5, "color": "#ffffff", "dy": 1},
          "encoding": {
            "x": {"field": "tx", "type": "temporal", "title": null},
            "y": {"field": "v", "type": "quantitative", "title": null},
            "text": {"field": "text"}
          }
        },
        {
          "data": {"name": "frameRsi"},
          "mark": {"type": "rule", "color": "#e0e3eb", "strokeWidth": 1.5},
          "encoding": {
            "x": {"field": "t1", "type": "temporal", "title": null},
            "x2": {"field": "t2"},
            "y": {"field": "v1", "type": "quantitative", "title": null},
            "y2": {"field": "v2"}
          }
        },
        {
          "data": {"name": "brand"},
          "mark": {"type": "text", "align": "left", "baseline": "middle", "fontSize": 24, "fontWeight": 500, "color": "#131722"},
          "encoding": {
            "x": {"field": "t", "type": "temporal", "title": null},
            "y": {"field": "v", "type": "quantitative", "title": null},
            "text": {"field": "text"}
          }
        },
        {
          "data": {"name": "brand"},
          "mark": {
            "type": "point", "filled": true, "opacity": 1, "color": "#131722", "size": 1444,
            "shape": "M-1,-0.53L-0.16,-0.53L-0.16,0.53L-0.53,0.53L-0.53,-0.21L-1,-0.21Z M-0.09,-0.32A0.17,0.17 0 1,0 0.25,-0.32A0.17,0.17 0 1,0 -0.09,-0.32Z M0.37,-0.53L1,-0.53L0.47,0.53L0,0.53Z"
          },
          "encoding": {
            "x": {"field": "lt", "type": "temporal", "title": null},
            "y": {"field": "v", "type": "quantitative", "title": null}
          }
        }
      ]
    }
  ],
  "config": {
    "font": "Noto Sans",
    "view": {"stroke": "#e0e3eb", "strokeWidth": 1.5},
    "axis": {
      "domain": false,
      "ticks": false,
      "gridColor": "#eff0f3",
      "gridWidth": 1.5,
      "labelFont": "Noto Sans",
      "labelFontSize": 22,
      "labelColor": "#131722"
    },
    "text": {"font": "Noto Sans"}
  }
}
